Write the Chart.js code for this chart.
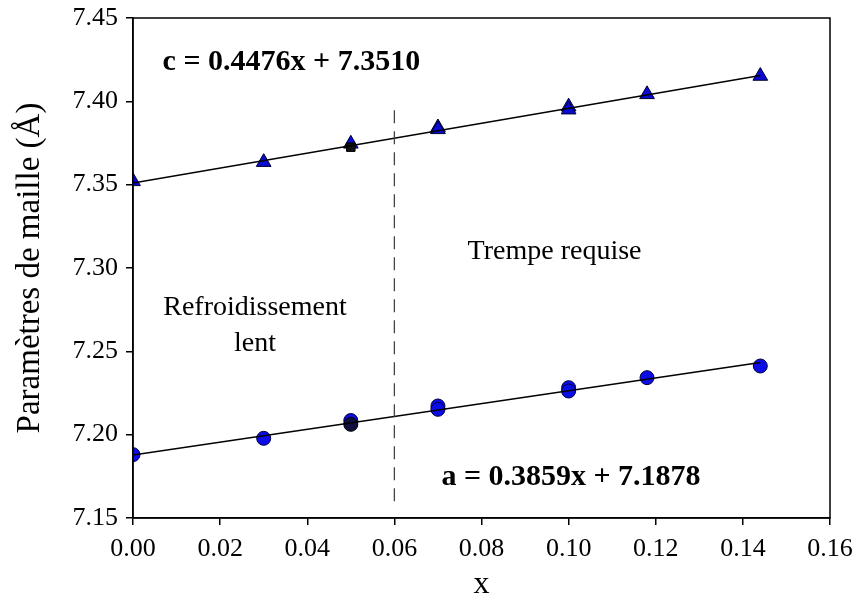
<!DOCTYPE html>
<html>
<head>
<meta charset="utf-8">
<script src="https://cdn.jsdelivr.net/npm/chart.js@4"></script>
<style>
  html, body { margin: 0; padding: 0; background: #fff; }
  #wrap { width: 857px; height: 608px; }
</style>
</head>
<body>
<div id="wrap"><canvas id="lattice"></canvas></div>
<script>
// values
const xC = [0, 0.03, 0.05, 0.07, 0.07, 0.10, 0.10, 0.118, 0.144];
const cVals = [7.352, 7.3635, 7.3745, 7.3843, 7.3832, 7.3968, 7.3950, 7.4042, 7.4152];
const xA = [0, 0.03, 0.05, 0.07, 0.07, 0.10, 0.10, 0.118, 0.144];
const aVals = [7.188, 7.1978, 7.2085, 7.2172, 7.2152, 7.2282, 7.2262, 7.2342, 7.2412];
// darker duplicate points hidden under the blue ones at x = 0.05
const xDark = [0.05];
const cDark = [7.3725];
const aDark = [7.2062];
const fitX = [0, 0.144];
const cSlope = 0.4476, cInter = 7.3510;
const aSlope = 0.3859, aInter = 7.1878;
const xTicks = [0, 0.02, 0.04, 0.06, 0.08, 0.10, 0.12, 0.14, 0.16];
const yTicks = [7.15, 7.20, 7.25, 7.30, 7.35, 7.40, 7.45];
const splitX = 0.06;
const splitY = [7.16, 7.399];

const pts = (xs, ys) => xs.map((x, i) => ({ x: x, y: ys[i] }));
const fit = (m, b) => fitX.map(x => ({ x: x, y: m * x + b }));

const serif = '"Liberation Serif", "Times New Roman", serif';

// text labels + frame drawn in data coordinates
const labels = {
  id: 'labels',
  afterDatasetsDraw(chart) {
    const { ctx, chartArea, scales } = chart;
    const px = v => scales.x.getPixelForValue(v);
    const py = v => scales.y.getPixelForValue(v);
    ctx.save();
    ctx.strokeStyle = '#000';
    ctx.lineWidth = 1.5;
    ctx.strokeRect(chartArea.left, chartArea.top, chartArea.right - chartArea.left, chartArea.bottom - chartArea.top);
    ctx.fillStyle = '#000';
    ctx.textBaseline = 'middle';
    ctx.textAlign = 'left';
    ctx.font = 'bold 30px ' + serif;
    ctx.fillText('c = 0.4476x + 7.3510', px(0.0068), py(7.4236));
    ctx.fillText('a = 0.3859x + 7.1878', px(0.0708), py(7.1742));
    ctx.font = '28px ' + serif;
    ctx.fillText('Trempe requise', px(0.0768), py(7.3099));
    ctx.textAlign = 'center';
    ctx.fillText('Refroidissement', px(0.0280), py(7.2765));
    ctx.fillText('lent', px(0.0280), py(7.2546));
    ctx.restore();
  }
};

new Chart(document.getElementById('lattice'), {
  type: 'scatter',
  data: {
    datasets: [
      {
        label: 'split',
        type: 'line',
        data: pts([splitX, splitX], splitY),
        borderColor: '#444',
        borderWidth: 1.3,
        borderDash: [13, 8],
        pointRadius: 0
      },
      {
        label: 'c fit',
        type: 'line',
        data: fit(cSlope, cInter),
        borderColor: '#000',
        borderWidth: 1.5,
        pointRadius: 0
      },
      {
        label: 'a fit',
        type: 'line',
        data: fit(aSlope, aInter),
        borderColor: '#000',
        borderWidth: 1.5,
        pointRadius: 0
      },
      {
        label: 'c dark',
        data: pts(xDark, cDark),
        pointStyle: 'rect',
        pointRadius: 6,
        backgroundColor: '#111',
        borderColor: '#000',
        borderWidth: 1
      },
      {
        label: 'a dark',
        data: pts(xDark, aDark),
        pointStyle: 'circle',
        pointRadius: 7,
        backgroundColor: '#101040',
        borderColor: '#000',
        borderWidth: 1
      },
      {
        label: 'c',
        data: pts(xC, cVals),
        pointStyle: 'triangle',
        pointRadius: 8.5,
        backgroundColor: '#0a0ad0',
        borderColor: '#000030',
        borderWidth: 1
      },
      {
        label: 'a',
        data: pts(xA, aVals),
        pointStyle: 'circle',
        pointRadius: 7,
        backgroundColor: '#0c0ce6',
        borderColor: '#000040',
        borderWidth: 1
      }
    ]
  },
  options: {
    responsive: true,
    maintainAspectRatio: false,
    animation: false,
    layout: { padding: { top: 18, right: 27, left: 7, bottom: 0 } },
    plugins: {
      legend: { display: false },
      tooltip: { enabled: false }
    },
    scales: {
      x: {
        type: 'linear',
        min: 0,
        max: 0.16,
        afterBuildTicks: axis => { axis.ticks = xTicks.map(v => ({ value: v })); },
        afterFit: axis => { axis.height = 90; axis.paddingLeft = 0; axis.paddingRight = 0; },
        ticks: {
          color: '#000',
          font: { family: serif, size: 26 },
          padding: 9,
          maxRotation: 0,
          callback: v => v.toFixed(2)
        },
        grid: { drawOnChartArea: false, drawTicks: true, tickLength: 7, color: '#000', lineWidth: 1.5 },
        border: { display: true, color: '#000', width: 1.5 },
        title: {
          display: true,
          text: 'x',
          color: '#000',
          font: { family: serif, size: 32 },
          padding: { top: 10 }
        }
      },
      y: {
        type: 'linear',
        min: 7.15,
        max: 7.45,
        afterBuildTicks: axis => { axis.ticks = yTicks.map(v => ({ value: v })); },
        afterFit: axis => { axis.width = 126; axis.paddingTop = 0; axis.paddingBottom = 0; },
        ticks: {
          color: '#000',
          font: { family: serif, size: 26 },
          padding: 8,
          callback: v => v.toFixed(2)
        },
        grid: { drawOnChartArea: false, drawTicks: true, tickLength: 7, color: '#000', lineWidth: 1.5 },
        border: { display: true, color: '#000', width: 1.5 },
        title: {
          display: true,
          text: 'Paramètres de maille (Å)',
          color: '#000',
          font: { family: serif, size: 33 },
          padding: { bottom: 0 }
        }
      }
    }
  },
  plugins: [labels]
});
</script>
</body>
</html>
